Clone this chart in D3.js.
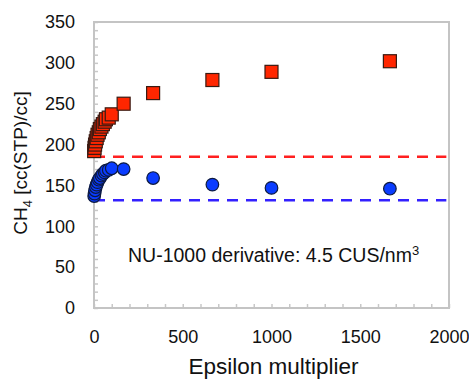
<!DOCTYPE html>
<html lang="en">
<head>
  <meta charset="UTF-8" />
  <title>CH4 uptake vs epsilon multiplier</title>
  <script src="https://d3js.org/d3.v7.min.js"></script>
  <style>
    body {
      margin: 0;
      background: #fff;
      font-family: "Liberation Sans", Arial, sans-serif;
    }
    svg text {
      fill: #111;
    }
  </style>
</head>
<body>
  <div id="chart"></div>

  <script>
    // data
    const epsilon = [1, 3, 6, 10, 15, 20, 27, 33, 42, 50, 60, 67, 83, 100, 167, 333, 667, 1000, 1667];
    const redUptake = [192, 196, 200, 204, 208, 212, 215, 219, 222, 225, 228, 231, 233, 237, 250, 263, 279, 289, 302];
    const blueUptake = [137, 140, 144, 148, 151, 154, 157, 159, 162, 164, 166, 168, 169, 171, 170, 159, 151, 147, 146];
    const redRef = 185;
    const blueRef = 132;
    const xTicks = [0, 500, 1000, 1500, 2000];
    const yTicks = [0, 50, 100, 150, 200, 250, 300, 350];

    const width = 469;
    const height = 379;
    const margin = { top: 22, right: 20, bottom: 71, left: 94 };

    const svg = d3.select("#chart")
      .append("svg")
      .attr("width", width)
      .attr("height", height);

    const x = d3.scaleLinear()
      .domain([0, 2000])
      .range([margin.left, width - margin.right]);

    const y = d3.scaleLinear()
      .domain([0, 350])
      .range([height - margin.bottom, margin.top]);

    // minor ticks, pointing inward
    svg.append("g")
      .attr("transform", `translate(${margin.left},0)`)
      .call(d3.axisLeft(y).tickValues(d3.range(0, 351, 10)).tickSize(-4).tickFormat(""))
      .call(g => g.select(".domain").remove())
      .call(g => g.selectAll("line").attr("stroke", "#c8c8c8").attr("stroke-width", 1.5));

    svg.append("g")
      .attr("transform", `translate(0,${height - margin.bottom})`)
      .call(d3.axisBottom(x).tickValues(d3.range(0, 2001, 100)).tickSize(-4).tickFormat(""))
      .call(g => g.select(".domain").remove())
      .call(g => g.selectAll("line").attr("stroke", "#c8c8c8").attr("stroke-width", 1.5));

    // frame
    svg.append("rect")
      .attr("x", margin.left)
      .attr("y", margin.top)
      .attr("width", width - margin.right - margin.left)
      .attr("height", height - margin.bottom - margin.top)
      .attr("fill", "none")
      .attr("stroke", "#c4c4c4")
      .attr("stroke-width", 2);

    // tick labels
    svg.append("g")
      .attr("transform", `translate(${margin.left},0)`)
      .call(d3.axisLeft(y).tickValues(yTicks).tickSize(0).tickPadding(19).tickFormat(d3.format("d")))
      .call(g => g.select(".domain").remove())
      .call(g => g.selectAll("text").attr("font-size", 18).attr("font-family", "Liberation Sans, Arial, sans-serif"));

    svg.append("g")
      .attr("transform", `translate(0,${height - margin.bottom})`)
      .call(d3.axisBottom(x).tickValues(xTicks).tickSize(0).tickPadding(22).tickFormat(d3.format("d")))
      .call(g => g.select(".domain").remove())
      .call(g => g.selectAll("text").attr("font-size", 18).attr("font-family", "Liberation Sans, Arial, sans-serif"));

    // reference lines
    const refs = [
      { v: redRef, color: "#ff2020" },
      { v: blueRef, color: "#3320ff" }
    ];
    svg.selectAll("line.ref")
      .data(refs)
      .enter()
      .append("line")
      .attr("class", "ref")
      .attr("x1", x(0))
      .attr("x2", x(1985))
      .attr("y1", d => y(d.v))
      .attr("y2", d => y(d.v))
      .attr("stroke", d => d.color)
      .attr("stroke-width", 2.5)
      .attr("stroke-dasharray", "11,8");

    // blue circles
    svg.append("g")
      .selectAll("circle")
      .data(epsilon)
      .enter()
      .append("circle")
      .attr("cx", d => x(d))
      .attr("cy", (d, i) => y(blueUptake[i]))
      .attr("r", 6.3)
      .attr("fill", "#0a3cff")
      .attr("stroke", "#0d1a40")
      .attr("stroke-width", 1.2);

    // red squares
    const sq = 13;
    svg.append("g")
      .selectAll("rect")
      .data(epsilon)
      .enter()
      .append("rect")
      .attr("x", d => x(d) - sq / 2)
      .attr("y", (d, i) => y(redUptake[i]) - sq / 2)
      .attr("width", sq)
      .attr("height", sq)
      .attr("fill", "#ff2600")
      .attr("stroke", "#3a1a12")
      .attr("stroke-width", 1.2);

    // annotation
    const note = svg.append("text")
      .attr("x", 128)
      .attr("y", 262)
      .attr("font-size", 19.5);
    note.append("tspan").text("NU-1000 derivative: 4.5 CUS/nm");
    note.append("tspan").attr("dy", -7).attr("font-size", 13).text("3");

    // axis titles
    svg.append("text")
      .attr("x", (margin.left + width - margin.right) / 2 + 2)
      .attr("y", 374)
      .attr("text-anchor", "middle")
      .attr("font-size", 22.5)
      .text("Epsilon multiplier");

    const yTitle = svg.append("text")
      .attr("transform", "translate(27,163) rotate(-90)")
      .attr("text-anchor", "middle")
      .attr("font-size", 19);
    yTitle.append("tspan").text("CH");
    yTitle.append("tspan").attr("dy", 5).attr("font-size", 13).text("4");
    yTitle.append("tspan").attr("dy", -5).text(" [cc(STP)/cc]");
  </script>
</body>
</html>
